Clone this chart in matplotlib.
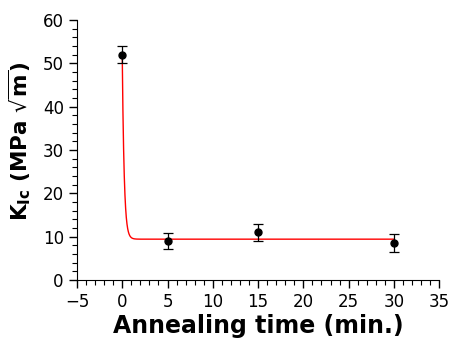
import numpy as np
import matplotlib.pyplot as plt
from matplotlib.ticker import MultipleLocator

plt.rcParams['mathtext.fontset'] = 'dejavusans'

# measured points
time_min = [0, 5, 15, 30]
k_ic = [52.0, 9.0, 11.0, 8.5]
k_err = [2.0, 1.9, 2.0, 2.0]

# exponential decay fit: K = A*exp(-t/tau) + C
fit_A = 42.6
fit_tau = 0.21
fit_C = 9.4
t_fit = np.linspace(0, 30, 1200)
k_fit = fit_A * np.exp(-t_fit / fit_tau) + fit_C

fig = plt.figure(figsize=(4.5, 3.49), dpi=100)
ax = fig.add_axes([0.171, 0.198, 0.805, 0.745])

ax.plot(t_fit, k_fit, color='red', lw=1.0, zorder=2)
ax.errorbar(time_min, k_ic, yerr=k_err, fmt='o', color='black', ms=5,
            capsize=3.5, elinewidth=0.9, capthick=0.9, zorder=3)

ax.set_xlim(-5, 35)
ax.set_ylim(0, 60)
ax.xaxis.set_major_locator(MultipleLocator(5))
ax.xaxis.set_minor_locator(MultipleLocator(1))
ax.yaxis.set_major_locator(MultipleLocator(10))
ax.yaxis.set_minor_locator(MultipleLocator(2))
ax.tick_params(which='major', direction='out', length=6, width=1, labelsize=12)
ax.tick_params(which='minor', direction='out', length=3.5, width=0.8)
ax.spines['top'].set_visible(False)
ax.spines['right'].set_visible(False)

ax.set_xlabel('Annealing time (min.)', fontsize=17, fontweight='bold', labelpad=2)
ax.set_ylabel(r'$\mathbf{K_{Ic}}$ (MPa $\sqrt{\mathbf{m}}$)', fontsize=15.5,
              fontweight='bold')
ax.yaxis.set_label_coords(-0.12, 0.535)

fig.savefig('out.png', dpi=100)
